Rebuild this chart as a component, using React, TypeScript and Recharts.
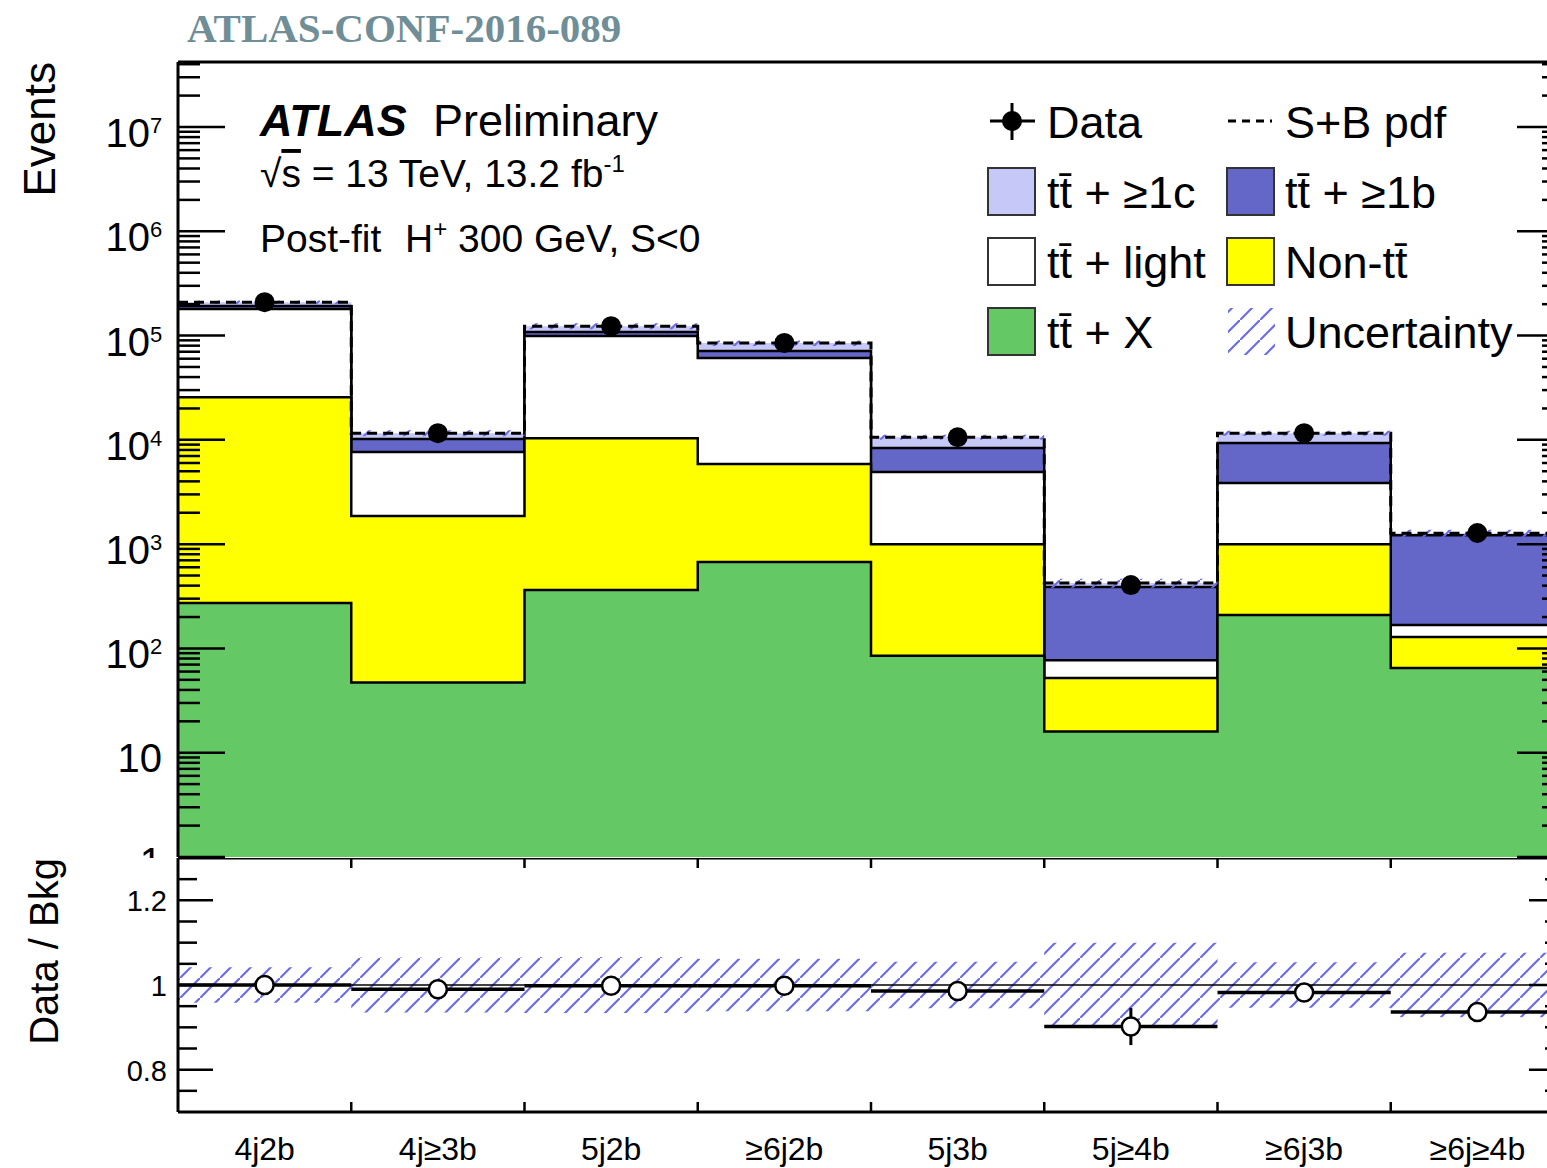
import React from 'react';
import {
  ComposedChart,
  Area,
  Line,
  Scatter,
  XAxis,
  YAxis,
  ErrorBar,
  ReferenceLine,
} from 'recharts';

const categories = ['4j2b', '4j≥3b', '5j2b', '≥6j2b', '5j3b', '5j≥4b', '≥6j3b', '≥6j≥4b'];

// post-fit yields per region, stack order bottom -> top
const ttX = [272, 47, 363, 673, 85, 16, 209, 65];
const nonTt = [25400, 1810, 10000, 5190, 915, 36, 790, 64];
const ttLight = [154000, 5780, 88600, 55000, 3910, 25, 2850, 39];
const tt1b = [12000, 2560, 9000, 10100, 3440, 311, 5460, 1050];
const tt1c = [17000, 1400, 15000, 13700, 2250, 36, 2290, 57];
const dataYield = [209000, 11600, 123000, 85000, 10600, 405, 11600, 1280];

// Data / Bkg panel
const ratio = [1.0, 0.99, 0.998, 0.998, 0.986, 0.902, 0.982, 0.936];
const ratioErr = [0.003, 0.01, 0.004, 0.004, 0.012, 0.044, 0.012, 0.022];
const relUnc = [0.042, 0.065, 0.066, 0.062, 0.055, 0.1, 0.054, 0.076];

const ratioTicks = [0.75, 0.8, 0.85, 0.9, 0.95, 1, 1.05, 1.1, 1.15, 1.2, 1.25];

const C1C = '#c6c8f7';
const C1B = '#6466c8';
const YELLOW = '#ffff00';
const GREEN = '#64c864';
const HATCH = '#6c6ce6';
const FONT = '"Liberation Sans", Arial, Helvetica, sans-serif';

const CHART_W = 1600;
const PLOT_W = 1386;
const UPPER_H = 795;
const LOWER_H = 254;
const Y_MAX = 4.2e7;

const layers = [ttX, nonTt, ttLight, tt1b, tt1c];
const tops = layers.map((_, k) =>
  categories.map((_, i) => layers.slice(0, k + 1).reduce((s, arr) => s + arr[i], 0))
);

// one row per bin edge, stepAfter draws the histogram
const edges = Array.from({ length: categories.length + 1 }, (_, e) => {
  const i = Math.min(e, categories.length - 1);
  const total = tops[4][i];
  return {
    x: e,
    ttX: tops[0][i],
    nonTt: tops[1][i],
    light: tops[2][i],
    b1: tops[3][i],
    total,
    band: [total * (1 - relUnc[i]), total * (1 + relUnc[i])],
    ratioBand: [1 - relUnc[i], 1 + relUnc[i]],
  };
});
const dataPoints = categories.map((_, i) => ({ x: i + 0.5, y: dataYield[i] }));
const ratioPoints = categories.map((_, i) => ({ x: i + 0.5, r: ratio[i], ex: 0.5, ey: ratioErr[i] }));

const logTicks: number[] = [];
for (let e = 0; e <= 7; e++) {
  for (let m = 1; m <= 9; m++) {
    const v = m * Math.pow(10, e);
    if (v <= Y_MAX) logTicks.push(v);
  }
}
const edgeTicks = categories.slice(1).map((_, i) => i + 1);
const lowerXTicks = Array.from({ length: categories.length * 2 + 1 }, (_, i) => i / 2);

const LogTick = (props: any) => {
  const { x, y, payload } = props;
  const v = payload.value;
  const exp = Math.round(Math.log10(v));
  const major = Math.abs(v / Math.pow(10, exp) - 1) < 1e-6;
  const len = major ? 47 : 22;
  let label = null;
  if (major) {
    if (exp === 0 || exp === 1) {
      label = (
        <text x={x - 16} y={y + 19} textAnchor="end" fontSize={40} fontFamily={FONT} fill="#000">
          {exp === 0 ? '1' : '10'}
        </text>
      );
    } else {
      label = (
        <g fontFamily={FONT} fill="#000">
          <text x={x - 28} y={y + 20} textAnchor="end" fontSize={40}>10</text>
          <text x={x - 28} y={y + 6} fontSize={22}>{exp}</text>
        </g>
      );
    }
  }
  return (
    <g>
      <line x1={x} x2={x + len} y1={y} y2={y} stroke="#000" strokeWidth={2.5} />
      <line x1={x + PLOT_W - len} x2={x + PLOT_W} y1={y} y2={y} stroke="#000" strokeWidth={2.5} />
      {label}
    </g>
  );
};

const UpperXTick = (props: any) => {
  const { x, y } = props;
  return (
    <g>
      <line x1={x} x2={x} y1={y} y2={y - 20} stroke="#000" strokeWidth={2.5} />
      <line x1={x} x2={x} y1={y - UPPER_H} y2={y - UPPER_H + 20} stroke="#000" strokeWidth={2.5} />
    </g>
  );
};

const RatioTick = (props: any) => {
  const { x, y, payload } = props;
  const v = payload.value;
  const major = Math.abs(v * 5 - Math.round(v * 5)) < 1e-6;
  const len = major ? 35 : 19;
  return (
    <g>
      <line x1={x} x2={x + len} y1={y} y2={y} stroke="#000" strokeWidth={2.5} />
      <line x1={x + PLOT_W - len} x2={x + PLOT_W} y1={y} y2={y} stroke="#000" strokeWidth={2.5} />
      {major && (
        <text x={x - 11} y={y + 11} textAnchor="end" fontSize={29} fontFamily={FONT} fill="#000">
          {v === 1 ? '1' : v.toFixed(1)}
        </text>
      )}
    </g>
  );
};

const LowerXTick = (props: any) => {
  const { x, y, payload } = props;
  const v = payload.value;
  if (Number.isInteger(v)) {
    if (v === 0 || v === categories.length) return <g />;
    return (
      <g>
        <line x1={x} x2={x} y1={y} y2={y - 10} stroke="#000" strokeWidth={2.5} />
        <line x1={x} x2={x} y1={y - LOWER_H} y2={y - LOWER_H + 10} stroke="#000" strokeWidth={2.5} />
      </g>
    );
  }
  return (
    <text x={x} y={y + 48} textAnchor="middle" fontSize={32} fontFamily={FONT} fill="#000">
      {categories[Math.floor(v)]}
    </text>
  );
};

const DataDot = (p: any) => <circle cx={p.cx} cy={p.cy} r={10} fill="#000" />;
const OpenDot = (p: any) => (
  <circle cx={p.cx} cy={p.cy} r={9} fill="#fff" stroke="#000" strokeWidth={2.5} />
);

const LegendBox = ({ x, y, fill }: { x: number; y: number; fill: string }) => (
  <rect x={x} y={y} width={47} height={47} fill={fill} stroke="#333" strokeWidth={2} />
);

function Overlay() {
  const tt = 'tt\u0304';
  return (
    <svg
      width={1547}
      height={1168}
      style={{ position: 'absolute', left: 0, top: 0, pointerEvents: 'none' }}
    >
      <text x={187} y={42} fontFamily='"Liberation Serif", "Times New Roman", serif' fontWeight="bold" fontSize={41} fill="#6f8e97">
        ATLAS-CONF-2016-089
      </text>
      <text transform="translate(55,62) rotate(-90)" textAnchor="end" fontFamily={FONT} fontSize={44} fill="#000">
        Events
      </text>
      <text transform="translate(58,858) rotate(-90)" textAnchor="end" fontFamily={FONT} fontSize={40} fill="#000">
        Data / Bkg
      </text>

      <g fontFamily={FONT} fill="#000">
        <text x={260} y={136} fontSize={45} fontWeight="bold" fontStyle="italic">ATLAS</text>
        <text x={433} y={136} fontSize={45}>Preliminary</text>
        <text x={260} y={187} fontSize={39}>
          <tspan>√</tspan>
          <tspan textDecoration="overline">s</tspan>
          <tspan> = 13 TeV, 13.2 fb</tspan>
          <tspan fontSize={24} dy={-15}>-1</tspan>
        </text>
        <text x={260} y={252} fontSize={39}>
          <tspan>Post-fit</tspan>
          <tspan x={405}>H</tspan>
          <tspan fontSize={24} dy={-15}>+</tspan>
          <tspan dy={15}> 300 GeV, S&lt;0</tspan>
        </text>
      </g>

      <g fontFamily={FONT} fontSize={45} fill="#000">
        <line x1={990} x2={1035} y1={121} y2={121} stroke="#000" strokeWidth={3} />
        <line x1={1012} x2={1012} y1={103} y2={140} stroke="#000" strokeWidth={3} />
        <circle cx={1012} cy={121} r={10} fill="#000" />
        <text x={1047} y={138}>Data</text>
        <line x1={1228} x2={1272} y1={121} y2={121} stroke="#000" strokeWidth={3} strokeDasharray="8 6" />
        <text x={1285} y={138}>S+B pdf</text>

        <LegendBox x={988} y={168} fill={C1C} />
        <text x={1047} y={208}>{tt} + ≥1c</text>
        <LegendBox x={1227} y={168} fill={C1B} />
        <text x={1285} y={208}>{tt} + ≥1b</text>

        <LegendBox x={988} y={238} fill="#fff" />
        <text x={1047} y={278}>{tt} + light</text>
        <LegendBox x={1227} y={238} fill={YELLOW} />
        <text x={1285} y={278}>Non-{tt}</text>

        <LegendBox x={988} y={308} fill={GREEN} />
        <text x={1047} y={348}>{tt} + X</text>
        <rect x={1228} y={308} width={47} height={47} fill="url(#hatch)" />
        <text x={1285} y={348}>Uncertainty</text>
      </g>
    </svg>
  );
}

export default function App() {
  return (
    <div style={{ position: 'relative', width: 1547, height: 1168, overflow: 'hidden', background: '#fff' }}>
      <style>{'body{margin:0;overflow:hidden}'}</style>
      <svg width={0} height={0} style={{ position: 'absolute' }}>
        <defs>
          <pattern id="hatch" patternUnits="userSpaceOnUse" width={20} height={20}>
            <line x1={-5} y1={25} x2={25} y2={-5} stroke={HATCH} strokeWidth={2.2} />
          </pattern>
        </defs>
      </svg>

      <div style={{ position: 'absolute', left: 0, top: 0 }}>
        <ComposedChart
          width={CHART_W}
          height={870}
          data={edges}
          margin={{ top: 62, right: CHART_W - 178 - PLOT_W, bottom: 13, left: 0 }}
        >
          <Area dataKey="total" type="stepAfter" baseValue={1} fill={C1C} fillOpacity={1} stroke="none" isAnimationActive={false} />
          <Area dataKey="b1" type="stepAfter" baseValue={1} fill={C1B} fillOpacity={1} stroke="#000" strokeWidth={2.5} isAnimationActive={false} />
          <Area dataKey="light" type="stepAfter" baseValue={1} fill="#fff" fillOpacity={1} stroke="#000" strokeWidth={2.5} isAnimationActive={false} />
          <Area dataKey="nonTt" type="stepAfter" baseValue={1} fill={YELLOW} fillOpacity={1} stroke="#000" strokeWidth={2.5} isAnimationActive={false} />
          <Area dataKey="ttX" type="stepAfter" baseValue={1} fill={GREEN} fillOpacity={1} stroke="#000" strokeWidth={2.5} isAnimationActive={false} />
          <Area dataKey="band" type="stepAfter" fill="url(#hatch)" fillOpacity={1} stroke="none" isAnimationActive={false} />
          <Line dataKey="total" type="stepAfter" stroke="#000" strokeWidth={3} strokeDasharray="10 6" dot={false} activeDot={false} isAnimationActive={false} />
          <Scatter data={dataPoints} dataKey="y" shape={DataDot} isAnimationActive={false} />
          <ReferenceLine y={Y_MAX} stroke="#000" strokeWidth={3} />
          <XAxis
            dataKey="x"
            type="number"
            domain={[0, categories.length]}
            allowDataOverflow
            ticks={edgeTicks}
            interval={0}
            height={0}
            tickSize={0}
            tickMargin={0}
            tickLine={false}
            axisLine={{ stroke: '#000', strokeWidth: 3 }}
            tick={UpperXTick}
          />
          <YAxis
            type="number"
            scale="log"
            domain={[1, Y_MAX]}
            allowDataOverflow
            ticks={logTicks}
            interval={0}
            width={178}
            tickSize={0}
            tickMargin={0}
            tickLine={false}
            axisLine={{ stroke: '#000', strokeWidth: 3 }}
            tick={LogTick}
          />
        </ComposedChart>
      </div>

      <div style={{ position: 'absolute', left: 0, top: 858, background: '#fff' }}>
        <ComposedChart
          width={CHART_W}
          height={310}
          data={edges}
          margin={{ top: 0, right: CHART_W - 178 - PLOT_W, bottom: 0, left: 0 }}
        >
          <Area dataKey="ratioBand" type="stepAfter" fill="url(#hatch)" fillOpacity={1} stroke="none" isAnimationActive={false} />
          <ReferenceLine y={1} stroke="#000" strokeWidth={1.5} />
          <ReferenceLine y={1.3} stroke="#000" strokeWidth={3} />
          <Scatter data={ratioPoints} dataKey="r" shape={OpenDot} isAnimationActive={false}>
            <ErrorBar dataKey="ex" direction="x" width={0} stroke="#000" strokeWidth={3.5} />
            <ErrorBar dataKey="ey" direction="y" width={0} stroke="#000" strokeWidth={3} />
          </Scatter>
          <XAxis
            dataKey="x"
            type="number"
            domain={[0, categories.length]}
            allowDataOverflow
            ticks={lowerXTicks}
            interval={0}
            height={56}
            tickSize={0}
            tickMargin={0}
            tickLine={false}
            axisLine={{ stroke: '#000', strokeWidth: 3 }}
            tick={LowerXTick}
          />
          <YAxis
            type="number"
            domain={[0.7, 1.3]}
            allowDataOverflow
            ticks={ratioTicks}
            interval={0}
            width={178}
            tickSize={0}
            tickMargin={0}
            tickLine={false}
            axisLine={{ stroke: '#000', strokeWidth: 3 }}
            tick={RatioTick}
          />
        </ComposedChart>
      </div>

      <Overlay />
    </div>
  );
}
